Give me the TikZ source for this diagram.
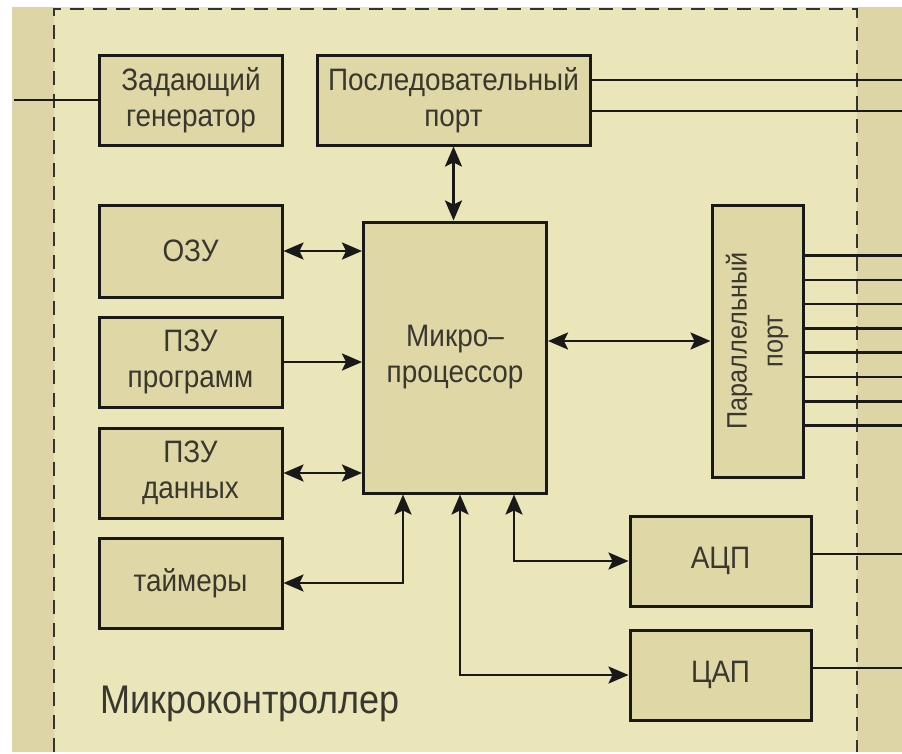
\documentclass[tikz,border=0pt]{standalone}
\usepackage{fontspec}
\setmainfont[FakeStretch=0.9]{Liberation Sans}
\usetikzlibrary{arrows.meta}
\definecolor{fon}{HTML}{EAE6BA}
\definecolor{korp}{HTML}{DFD7A6}
\definecolor{pole}{HTML}{DED5A6}
\definecolor{txt}{HTML}{38382F}
\begin{document}
\begin{tikzpicture}[x=1pt,y=-1pt,line join=miter,>={Stealth[length=20pt,width=17pt,inset=4pt]},
	blk/.style={draw=black!90,line width=3pt,fill=korp,text=txt,align=center,
		minimum width=183pt,minimum height=90pt,font=\fontsize{31}{36}\selectfont},
	con/.style={line width=2.5pt,draw=black!90}]
	\useasboundingbox (0,0) rectangle (902,753);
	\fill[white] (0,0) rectangle (902,753);
	\fill[fon] (12,7) rectangle (902,752);
	\fill[pole] (12,7) rectangle (54,752) (857,7) rectangle (902,752);
	\draw[line width=2.5pt,black!80,dash pattern=on 14pt off 9pt] (54,752) -- (54,9) -- (857,9) -- (857,752);
	\coordinate (lkr) at (14,0);
	\coordinate (rkr) at (902,0);
	\node[blk] (gen) at (191,100) {Задающий\\генератор};
	\node[blk,minimum width=273pt] (sport) at (453.5,100) {Последовательный\\порт};
	\node[blk,minimum height=92pt] (ozu) at (190.5,251) {ОЗУ};
	\node[blk] (pzup) at (190.5,362) {ПЗУ\\программ};
	\node[blk] (pzud) at (190.5,473) {ПЗУ\\данных};
	\node[blk] (tim) at (190.5,583) {таймеры};
	\node[blk,minimum height=271pt] (cpu) at (455,357.5) {Микро–\\процессор};
	\node[blk,minimum width=91pt,minimum height=272pt,font=\fontsize{28}{36}\selectfont] (pport) at (757.5,341)
		{\rotatebox{90}{\begin{tabular}{@{}c@{}}Параллельный\\порт\end{tabular}}};
	\node[blk,minimum width=181pt] (adc) at (720.5,561) {АЦП};
	\node[blk,minimum width=181pt] (dac) at (720.5,675) {ЦАП};
	\node[text=txt,font=\fontsize{40}{48}\selectfont,anchor=base west,inner sep=0pt] (mk) at (100,713) {Микроконтроллер};
	\draw[con] (gen.west) -- (gen.west -| lkr);
	\coordinate (s1) at ([yshift=20pt]sport.east);
	\coordinate (s2) at ([yshift=-11pt]sport.east);
	\draw[con] (s1) -- (s1 -| rkr);
	\draw[con] (s2) -- (s2 -| rkr);
	\draw[con,<->] (sport.south) -- (sport.south |- cpu.north);
	\draw[con,<->] (ozu.east) -- (ozu.east -| cpu.west);
	\draw[con,->] (pzup.east) -- (pzup.east -| cpu.west);
	\draw[con,<->] (pzud.east) -- (pzud.east -| cpu.west);
	\coordinate (c1) at ([xshift=41pt]cpu.south west);
	\coordinate (c2) at ([xshift=98pt]cpu.south west);
	\coordinate (c3) at ([xshift=152pt]cpu.south west);
	\draw[con,<->] (tim.east) -| (c1);
	\draw[con,<->] (c3) |- (adc.west);
	\draw[con,<->] (c2) |- (dac.west);
	\draw[con,<->] (pport.west -| cpu.east) -- (pport.west);
	\foreach \i in {0,...,7}{
		\coordinate (p\i) at ([yshift={-52pt-24.3pt*\i}]pport.north east);
		\draw[con] (p\i) -- (p\i -| rkr);
	}
	\coordinate (a1) at ([yshift=7pt]adc.east);
	\coordinate (d1) at ([yshift=7pt]dac.east);
	\draw[con] (a1) -- (a1 -| rkr);
	\draw[con] (d1) -- (d1 -| rkr);
\end{tikzpicture}
\end{document}
